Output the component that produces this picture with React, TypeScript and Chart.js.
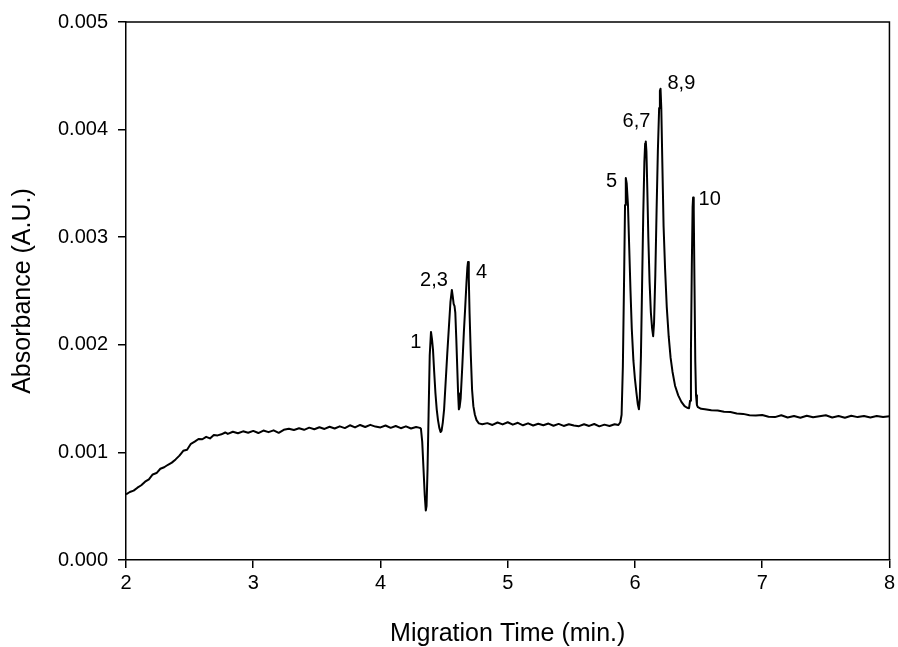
import React, { useEffect, useRef } from "react";
import { Chart, registerables } from "chart.js";

Chart.register(...registerables);

// Migration time (min.)
const timeMin: number[] = [
  2.00, 2.03, 2.06, 2.09, 2.12, 2.15, 2.18, 2.21, 2.24, 2.27, 2.30, 2.33, 2.36, 2.39, 2.42, 2.45, 2.48, 2.51, 2.54, 2.57,
  2.60, 2.63, 2.66, 2.69, 2.72, 2.75, 2.78,
  2.80, 2.84, 2.88, 2.92, 2.96, 3.00, 3.04, 3.08, 3.12, 3.16, 3.20, 3.24, 3.28, 3.32, 3.36, 3.40, 3.44, 3.48, 3.52, 3.56,
  3.60, 3.64, 3.68, 3.72, 3.76, 3.80, 3.84, 3.88, 3.92, 3.96, 4.00, 4.04, 4.08, 4.12, 4.16, 4.20, 4.24, 4.28, 4.31,
  4.318, 4.328, 4.338, 4.348, 4.356, 4.362, 4.370, 4.378, 4.387, 4.397, 4.405, 4.413, 4.422, 4.432, 4.442, 4.452, 4.462, 4.472, 4.48,
  4.49, 4.50, 4.512, 4.525, 4.538, 4.55, 4.561, 4.568, 4.575, 4.582, 4.588, 4.596, 4.603, 4.61, 4.616, 4.622,
  4.63, 4.643, 4.655, 4.666, 4.676, 4.683, 4.688, 4.694, 4.70, 4.71, 4.72, 4.73, 4.742, 4.755, 4.773,
  4.80, 4.84, 4.88, 4.92, 4.96, 5.00, 5.04, 5.08, 5.12, 5.16, 5.20, 5.24, 5.28, 5.32, 5.36, 5.40, 5.44, 5.48, 5.52, 5.56,
  5.60, 5.64, 5.68, 5.72, 5.76, 5.80, 5.84, 5.87, 5.885,
  5.895, 5.905, 5.915, 5.922, 5.928, 5.935, 5.945, 5.955, 5.965, 5.975, 5.988, 6.00, 6.012, 6.022, 6.031,
  6.038, 6.047, 6.056, 6.065, 6.074, 6.080, 6.085, 6.090, 6.097, 6.105, 6.115, 6.125, 6.135, 6.143,
  6.150, 6.160, 6.170, 6.180, 6.190, 6.196, 6.201, 6.207, 6.215, 6.225, 6.237, 6.250, 6.265, 6.28, 6.295, 6.315, 6.34,
  6.365, 6.39, 6.41, 6.425, 6.433, 6.440, 6.447, 6.453, 6.457, 6.462, 6.468, 6.474, 6.48, 6.487, 6.495, 6.52,
  6.55, 6.60, 6.65, 6.70, 6.75, 6.80, 6.85, 6.90, 6.95, 7.00, 7.05, 7.10, 7.15, 7.20, 7.25, 7.30, 7.35, 7.40, 7.45, 7.50,
  7.55, 7.60, 7.65, 7.70, 7.75, 7.80, 7.85, 7.90, 7.95, 8.00,
];

// Absorbance (A.U.)
const absorbance: number[] = [
  0.000610, 0.000632, 0.000645, 0.000672, 0.000695, 0.000728, 0.000750, 0.000795, 0.000808, 0.000848, 0.000862, 0.000885,
  0.000905, 0.000935, 0.000970, 0.001015, 0.001025, 0.001080, 0.001100, 0.001125,
  0.001122, 0.001145, 0.001130, 0.001162, 0.001158, 0.001168, 0.001185,
  0.001172, 0.001192, 0.001178, 0.001196, 0.001183, 0.001200, 0.001180, 0.001203, 0.001188, 0.001205, 0.001182, 0.001210,
  0.001220, 0.001208, 0.001224, 0.001210, 0.001230, 0.001215, 0.001234, 0.001218,
  0.001238, 0.001222, 0.001242, 0.001226, 0.001252, 0.001232, 0.001255, 0.001236, 0.001256, 0.001240, 0.001232, 0.001250,
  0.001228, 0.001245, 0.001225, 0.001242, 0.001222, 0.001236, 0.001228,
  0.001220, 0.001100, 0.000850, 0.000600, 0.000460, 0.000500, 0.000850, 0.001350, 0.001900, 0.002120, 0.002050, 0.001950,
  0.001750, 0.001550, 0.001400, 0.001300, 0.001230, 0.001190, 0.001200,
  0.001280, 0.001400, 0.001650, 0.001920, 0.002170, 0.002400, 0.002510, 0.002450, 0.002380, 0.002360, 0.002300, 0.002050,
  0.001800, 0.001550, 0.001400, 0.001420,
  0.001500, 0.001800, 0.002110, 0.002350, 0.002580, 0.002720, 0.002770, 0.002620, 0.002300, 0.001900, 0.001580, 0.001430,
  0.001350, 0.001300, 0.001270,
  0.001262, 0.001272, 0.001255, 0.001278, 0.001260, 0.001280, 0.001258, 0.001275, 0.001252, 0.001270, 0.001250, 0.001266,
  0.001252, 0.001268, 0.001248, 0.001265, 0.001246, 0.001262, 0.001250, 0.001244,
  0.001262, 0.001246, 0.001264, 0.001242, 0.001258, 0.001245, 0.001262, 0.001255, 0.001280,
  0.001350, 0.001800, 0.002650, 0.003300, 0.003550, 0.003500, 0.003300, 0.002900, 0.002500, 0.002150, 0.001850, 0.001680,
  0.001550, 0.001450, 0.001400,
  0.001500, 0.001900, 0.002550, 0.003200, 0.003700, 0.003870, 0.003890, 0.003800, 0.003450, 0.003000, 0.002580, 0.002300,
  0.002150, 0.002080,
  0.002200, 0.002650, 0.003250, 0.003800, 0.004200, 0.004360, 0.004380, 0.004200, 0.003700, 0.003100, 0.002700, 0.002350,
  0.002080, 0.001880, 0.001750, 0.001620, 0.001530,
  0.001470, 0.001430, 0.001415, 0.001410, 0.001480, 0.001950, 0.002750, 0.003280, 0.003370, 0.003250, 0.002550, 0.001850,
  0.001530, 0.001440, 0.001420, 0.001405,
  0.001402, 0.001392, 0.001390, 0.001378, 0.001375, 0.001362, 0.001358, 0.001345, 0.001342, 0.001348, 0.001332, 0.001328,
  0.001345, 0.001325, 0.001338, 0.001322, 0.001340, 0.001326, 0.001336, 0.001345,
  0.001325, 0.001338, 0.001322, 0.001340, 0.001328, 0.001338, 0.001325, 0.001338, 0.001328, 0.001336,
];

// Peak annotations
const peakLabels: string[] = ["1", "2,3", "4", "5", "6,7", "8,9", "10"];
const peakLabelX: number[] = [4.277, 4.42, 4.794, 5.816, 6.012, 6.365, 6.587];
const peakLabelY: number[] = [0.00202, 0.0026, 0.00267, 0.00352, 0.00408, 0.00443, 0.00335];

const xTicks: number[] = [2, 3, 4, 5, 6, 7, 8];
const yTicks: number[] = [0, 0.001, 0.002, 0.003, 0.004, 0.005];

const FONT = "'Liberation Sans', Arial, Helvetica, sans-serif";

const boxPlugin = {
  id: "boxFrame",
  afterDraw(chart: any) {
    const { ctx, chartArea } = chart;
    ctx.save();
    ctx.strokeStyle = "#000";
    ctx.lineWidth = 1.5;
    ctx.beginPath();
    ctx.moveTo(chartArea.left, chartArea.top);
    ctx.lineTo(chartArea.right, chartArea.top);
    ctx.lineTo(chartArea.right, chartArea.bottom);
    ctx.stroke();
    ctx.restore();
  },
};

const labelPlugin = {
  id: "peakLabels",
  afterDatasetsDraw(chart: any) {
    const { ctx, scales } = chart;
    ctx.save();
    ctx.fillStyle = "#000";
    ctx.font = `20px ${FONT}`;
    ctx.textAlign = "center";
    ctx.textBaseline = "middle";
    peakLabels.forEach((t, i) => {
      ctx.fillText(t, scales.x.getPixelForValue(peakLabelX[i]), scales.y.getPixelForValue(peakLabelY[i]));
    });
    ctx.restore();
  },
};

export default function App() {
  const ref = useRef<HTMLCanvasElement | null>(null);
  useEffect(() => {
    if (!ref.current) return;
    const chart = new Chart(ref.current, {
      type: "line",
      data: {
        datasets: [
          {
            data: timeMin.map((x, i) => ({ x, y: absorbance[i] })),
            borderColor: "#000",
            borderWidth: 2,
            pointRadius: 0,
            tension: 0,
            fill: false,
            borderJoinStyle: "round",
          },
        ],
      },
      options: {
        animation: false,
        responsive: false,
        maintainAspectRatio: false,
        layout: { padding: { left: 0, right: 6, top: 22, bottom: 0 } },
        plugins: { legend: { display: false }, tooltip: { enabled: false } },
        scales: {
          x: {
            type: "linear",
            min: 2,
            max: 8,
            afterFit: (s: any) => {
              s.height = 87;
            },
            afterBuildTicks: (s: any) => {
              s.ticks = xTicks.map((v) => ({ value: v }));
            },
            grid: { drawOnChartArea: false, drawTicks: true, tickLength: 8, color: "#000", lineWidth: 1.5 },
            border: { display: true, color: "#000", width: 1.5 },
            ticks: { color: "#000", padding: 3, font: { family: FONT, size: 20 }, callback: (v: any) => String(v) },
            title: {
              display: true,
              text: "Migration Time (min.)",
              color: "#000",
              font: { family: FONT, size: 25, lineHeight: 1 },
              padding: { top: 0, bottom: 0 },
            },
          },
          y: {
            type: "linear",
            min: 0,
            max: 0.005,
            afterFit: (s: any) => {
              s.width = 126;
            },
            afterBuildTicks: (s: any) => {
              s.ticks = yTicks.map((v) => ({ value: v }));
            },
            grid: { drawOnChartArea: false, drawTicks: true, tickLength: 8, color: "#000", lineWidth: 1.5 },
            border: { display: true, color: "#000", width: 1.5 },
            ticks: { color: "#000", padding: 10, font: { family: FONT, size: 20 }, callback: (v: any) => Number(v).toFixed(3) },
            title: {
              display: true,
              text: "Absorbance (A.U.)",
              color: "#000",
              font: { family: FONT, size: 25, lineHeight: 1 },
              padding: { top: 11, bottom: 0 },
            },
          },
        },
      },
      plugins: [boxPlugin, labelPlugin],
    });
    return () => chart.destroy();
  }, []);
  return (
    <div style={{ position: "absolute", left: 0, top: 0, width: 898, height: 647, background: "#fff" }}>
      <canvas ref={ref} width={898} height={647} style={{ display: "block" }} />
    </div>
  );
}
